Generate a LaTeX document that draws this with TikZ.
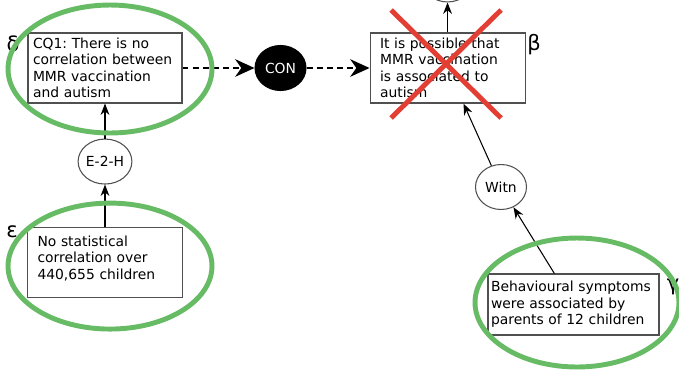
\documentclass[tikz,border=0pt]{standalone}
\usepackage{fontspec}
\setmainfont{DejaVu Sans}
\usetikzlibrary{arrows.meta,positioning,shapes.geometric}
\definecolor{agline}{RGB}{80,80,80}
\definecolor{aggreen}{RGB}{102,187,100}
\definecolor{agred}{RGB}{226,62,52}
\tikzset{
  agclaim/.style={draw=agline, line width=.6pt, fill=white, align=left, inner ysep=1pt, minimum height=1.4cm},
  agscheme/.style={draw=agline, line width=.6pt, ellipse, fill=white, inner sep=0pt, minimum width=1.02cm, minimum height=.9cm},
  agconflict/.style={agscheme, draw=black, fill=black, text=white},
  agarr/.style={-{Stealth[length=6.5pt, width=5pt]}, line width=.6pt, draw=black},
  agdash/.style={-{Stealth[length=11pt, width=10pt, inset=3.5pt]}, line width=1pt, draw=black, dash pattern=on 3.4pt off 2.4pt},
  agring/.style={draw=aggreen, line width=2.8pt},
  agcross/.style={draw=agred, line width=2.8pt},
  aglabel/.style={font=\fontsize{12}{14}\selectfont, inner sep=0pt}
}
\begin{document}
\frenchspacing
\begin{tikzpicture}[x=0.02cm, y=-0.02cm, font=\fontsize{7.9}{9.4}\selectfont]
  \useasboundingbox (0,0) rectangle (679,369);
  % claims and schemes
  \node[agclaim, text width=2.88cm, inner xsep=.1cm] (delta) at (105,68) {CQ1: There is no\\correlation between\\MMR vaccination\\and autism};
  \node[agconflict, right=1.44cm of delta] (con) {CON};
  \node[agclaim, right=1.26cm of con, text width=2.7cm, inner xsep=.2cm] (beta) {It is possible that\\MMR vaccination\\is associated to\\autism};
  \node[agscheme, above=.6cm of beta] (top) {};
  \node[agscheme, below=.7cm of delta] (etwoh) {E-2-H};
  \node[agclaim, below=.84cm of etwoh, text width=2.7cm, inner xsep=.2cm, text depth=24pt] (eps) {No statistical\\correlation over\\440,655 children};
  \node[agscheme] (witn) at (501,187) {Witn};
  \node[agclaim, text width=3.3cm, inner xsep=.06cm, minimum height=1.22cm] (gamma) at (573.5,304.5) {Behavioural symptoms\\were associated by\\parents of 12 children};
  % labels
  \node[aglabel] (lbldelta) at (13,44) {δ};
  \node[aglabel] (lbleps) at (12,232) {ε};
  \node[aglabel] (lblbeta) at (534,45) {β};
  \node[aglabel] (lblgamma) at (673,287) {γ};
  % connectors
  \draw[agdash] (delta) -- (con);
  \draw[agdash] (con) -- (beta);
  \draw[agarr] (etwoh) -- (delta);
  \draw[agarr] (eps) -- (etwoh);
  \draw[agarr] (beta) -- (top);
  \draw[agarr] (witn) -- (beta);
  \draw[agarr] (gamma) -- (witn);
  % highlights
  \draw[agring] ([shift={(.1cm,-.02cm)}]delta.center) ellipse [x radius=2.04cm, y radius=1.28cm];
  \draw[agring] ([shift={(.1cm,-.08cm)}]eps.center) ellipse [x radius=2.04cm, y radius=1.26cm];
  \draw[agring] ([shift={(.07cm,.04cm)}]gamma.center) ellipse [x radius=2.04cm, y radius=1.29cm];
  \draw[agcross] ([shift={(-1.13cm,1.16cm)}]beta.center) -- ([shift={(1.07cm,-1.0cm)}]beta.center);
  \draw[agcross] ([shift={(1.07cm,1.16cm)}]beta.center) -- ([shift={(-1.13cm,-1.0cm)}]beta.center);
\end{tikzpicture}
\end{document}
